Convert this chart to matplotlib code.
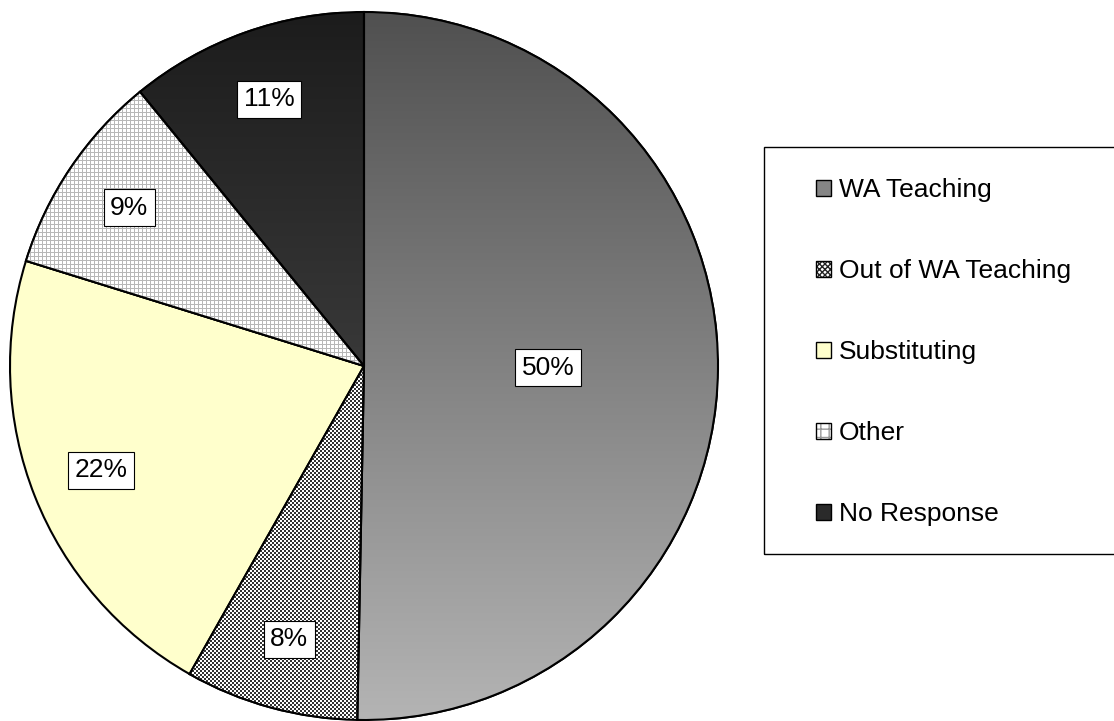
import numpy as np
import matplotlib
matplotlib.use("Agg")
import matplotlib.pyplot as plt
from matplotlib.patches import Patch, Wedge, Rectangle

plt.rcParams['font.family'] = ['Liberation Sans', 'DejaVu Sans']

categories = ["WA Teaching", "Out of WA Teaching", "Substituting", "Other", "No Response"]
values = [50.3, 7.9, 21.6, 9.3, 10.9]

W, H = 1114, 721
fig = plt.figure(figsize=(W/100, H/100), dpi=100)
cx, cy, r = 364, 366, 354
ax = fig.add_axes([(cx-r)/W, (H-cy-r)/H, 2*r/W, 2*r/H])

base = ['#888888', '#777777', '#ffffcc', '#eeeeee', '#2a2a2a']
wedges, texts, autotexts = ax.pie(values, startangle=90, counterclock=False, colors=base,
                                  autopct='%1.0f%%', pctdistance=0.8,
                                  wedgeprops=dict(edgecolor='black', linewidth=1.5),
                                  textprops=dict(fontsize=19, color='black'))
ax.set_xlim(-1, 1)
ax.set_ylim(-1, 1)

# fills: gradients and pixel textures clipped to the wedges
n = 2*r
yy = np.linspace(0, 1, n)[:, None] * np.ones((1, n))
def grad(top, bottom):
    top = np.array(matplotlib.colors.to_rgb(top))
    bottom = np.array(matplotlib.colors.to_rgb(bottom))
    return top[None, None, :] * (1 - yy[..., None]) + bottom[None, None, :] * yy[..., None]

ii, jj = np.indices((n, n))
checker = ((ii // 2 + jj // 2) % 2).astype(float)
checker_img = np.where(checker[..., None] > 0, 1.0, 0.2) * np.ones((1, 1, 3))
grid = (ii % 4 == 0) | (jj % 4 == 0)
grid_img = np.where(grid[..., None], 0.72, 1.0) * np.ones((1, 1, 3))

fills = [grad('#505050', '#b4b4b4'), checker_img, None, grid_img, grad('#1c1c1c', '#555555')]
for w, img in zip(wedges, fills):
    if img is None:
        continue
    im = ax.imshow(img, extent=(-1, 1, -1, 1), interpolation='nearest', zorder=2, origin='upper')
    im.set_clip_path(w)
    ax.add_patch(Wedge(w.center, w.r, w.theta1, w.theta2, fill=False,
                       edgecolor='black', linewidth=1.5, zorder=3))
ax.set_xlim(-1, 1)
ax.set_ylim(-1, 1)
ax.set_aspect('equal')
ax.axis('off')

for i, (w, t) in enumerate(zip(wedges, autotexts)):
    t.set_zorder(5)
    t.set_bbox(dict(boxstyle='square,pad=0.25', facecolor='white', edgecolor='black', linewidth=0.8))
    if i == 0:
        ang = np.deg2rad((w.theta1 + w.theta2) / 2)
        t.set_position((0.52*np.cos(ang), 0.52*np.sin(ang)))

# legend
handles = [
    Patch(facecolor='#858585', edgecolor='black', linewidth=1),
    (Patch(facecolor='white', edgecolor='#222222', hatch='xxxxxx', linewidth=0),
     Patch(fill=False, edgecolor='black', linewidth=1)),
    Patch(facecolor='#ffffcc', edgecolor='black', linewidth=1),
    (Patch(facecolor='white', edgecolor='#999999', hatch='++', linewidth=0),
     Patch(fill=False, edgecolor='black', linewidth=1)),
    Patch(facecolor='#2a2a2a', edgecolor='black', linewidth=1),
]
fig.legend(handles, categories, loc='upper left', bbox_to_anchor=(816/W, 1-178/H),
           frameon=False, fontsize=19, handlelength=0.57, handleheight=0.57,
           handletextpad=0.3, labelspacing=2.16, borderpad=0, borderaxespad=0)
fig.patches.append(Rectangle((764/W, (H-554)/H), (W-764+10)/W, 407/H, fill=False,
                             edgecolor='black', linewidth=1, transform=fig.transFigure))

fig.savefig('out.png', dpi=100, facecolor='white')
